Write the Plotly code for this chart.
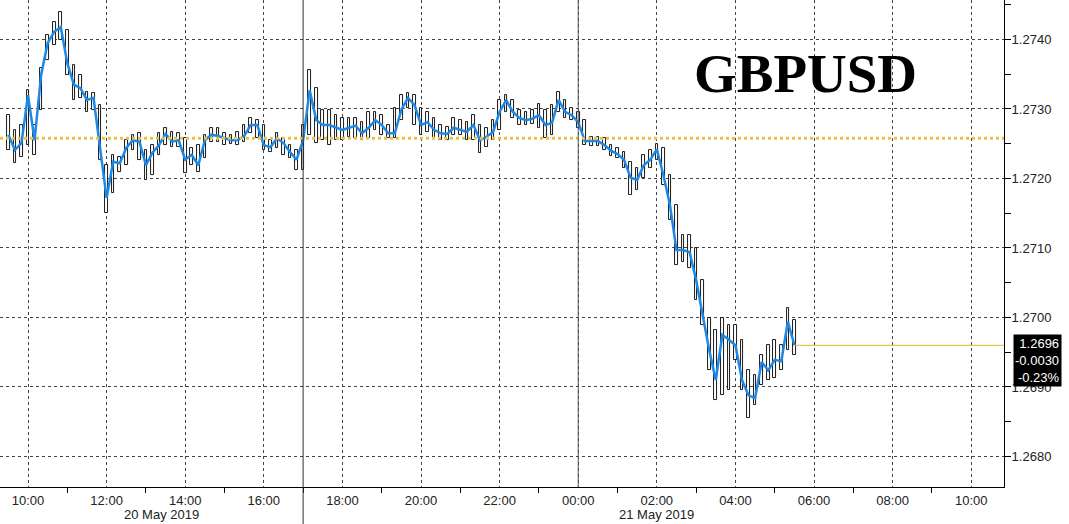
import plotly.graph_objects as go
import pandas as pd

# 10-minute bars, GBPUSD, 20 May 2019 09:30 -> 21 May 2019 05:30
start_time = "2019-05-20 09:30"
bar_minutes = 10

close = [
    1.27263, 1.27241, 1.27251, 1.27320, 1.27255, 1.27349, 1.27395, 1.27411, 1.27418, 1.27366,
    1.27335, 1.27330, 1.27313, 1.27316, 1.27244, 1.27172, 1.27224, 1.27222, 1.27244, 1.27255,
    1.27253, 1.27219, 1.27237, 1.27248, 1.27264, 1.27253, 1.27255, 1.27227, 1.27234, 1.27219,
    1.27255, 1.27263, 1.27261, 1.27258, 1.27255, 1.27255, 1.27261, 1.27277, 1.27277, 1.27248,
    1.27245, 1.27258, 1.27251, 1.27238, 1.27227, 1.27255, 1.27327, 1.27284, 1.27277, 1.27277,
    1.27273, 1.27270, 1.27273, 1.27276, 1.27265, 1.27273, 1.27284, 1.27277, 1.27265, 1.27265,
    1.27299, 1.27316, 1.27306, 1.27277, 1.27281, 1.27270, 1.27265, 1.27264, 1.27273, 1.27270,
    1.27267, 1.27277, 1.27255, 1.27260, 1.27267, 1.27296, 1.27313, 1.27296, 1.27287, 1.27284,
    1.27286, 1.27291, 1.27277, 1.27280, 1.27313, 1.27296, 1.27291, 1.27281, 1.27254, 1.27254,
    1.27254, 1.27248, 1.27240, 1.27235, 1.27227, 1.27201, 1.27198, 1.27219, 1.27227, 1.27242,
    1.27205, 1.27162, 1.27097, 1.27097, 1.27094, 1.27054, 1.27004, 1.26953, 1.26910, 1.26975,
    1.26968, 1.26960, 1.26910, 1.26888, 1.26884, 1.26936, 1.26924, 1.26939, 1.26937, 1.26994,
    1.26960,
]

high = [
    1.27291, 1.27270, 1.27277, 1.27327, 1.27277, 1.27359, 1.27406, 1.27425, 1.27440, 1.27414,
    1.27363, 1.27349, 1.27324, 1.27323, 1.27306, 1.27219, 1.27234, 1.27231, 1.27255, 1.27263,
    1.27265, 1.27241, 1.27248, 1.27265, 1.27273, 1.27267, 1.27265, 1.27258, 1.27244, 1.27248,
    1.27263, 1.27273, 1.27273, 1.27265, 1.27263, 1.27267, 1.27277, 1.27287, 1.27284, 1.27277,
    1.27255, 1.27265, 1.27258, 1.27248, 1.27241, 1.27277, 1.27356, 1.27330, 1.27299, 1.27299,
    1.27291, 1.27287, 1.27287, 1.27287, 1.27281, 1.27296, 1.27296, 1.27291, 1.27277, 1.27301,
    1.27320, 1.27323, 1.27320, 1.27301, 1.27296, 1.27287, 1.27277, 1.27274, 1.27287, 1.27284,
    1.27281, 1.27291, 1.27277, 1.27273, 1.27284, 1.27313, 1.27320, 1.27313, 1.27299, 1.27296,
    1.27299, 1.27307, 1.27299, 1.27306, 1.27324, 1.27313, 1.27301, 1.27296, 1.27284, 1.27260,
    1.27260, 1.27258, 1.27248, 1.27244, 1.27238, 1.27224, 1.27215, 1.27234, 1.27241, 1.27250,
    1.27244, 1.27205, 1.27162, 1.27119, 1.27119, 1.27100, 1.27054, 1.26999, 1.26982, 1.26999,
    1.26989, 1.26989, 1.26968, 1.26924, 1.26917, 1.26946, 1.26960, 1.26968, 1.26960, 1.27014,
    1.26996,
]

low = [
    1.27241, 1.27222, 1.27231, 1.27248, 1.27234, 1.27299, 1.27370, 1.27392, 1.27399, 1.27349,
    1.27313, 1.27316, 1.27296, 1.27299, 1.27227, 1.27150, 1.27179, 1.27209, 1.27219, 1.27241,
    1.27227, 1.27198, 1.27205, 1.27234, 1.27248, 1.27245, 1.27245, 1.27208, 1.27219, 1.27209,
    1.27230, 1.27253, 1.27253, 1.27248, 1.27250, 1.27248, 1.27253, 1.27265, 1.27258, 1.27241,
    1.27238, 1.27244, 1.27234, 1.27230, 1.27212, 1.27212, 1.27263, 1.27251, 1.27255, 1.27248,
    1.27255, 1.27255, 1.27260, 1.27258, 1.27255, 1.27258, 1.27270, 1.27263, 1.27258, 1.27258,
    1.27284, 1.27301, 1.27277, 1.27263, 1.27267, 1.27258, 1.27255, 1.27255, 1.27263, 1.27263,
    1.27255, 1.27255, 1.27237, 1.27245, 1.27255, 1.27270, 1.27296, 1.27287, 1.27277, 1.27277,
    1.27278, 1.27273, 1.27258, 1.27263, 1.27296, 1.27287, 1.27284, 1.27273, 1.27248, 1.27247,
    1.27247, 1.27241, 1.27232, 1.27230, 1.27215, 1.27176, 1.27183, 1.27201, 1.27215, 1.27227,
    1.27191, 1.27140, 1.27076, 1.27080, 1.27071, 1.27025, 1.26989, 1.26924, 1.26881, 1.26888,
    1.26896, 1.26939, 1.26896, 1.26855, 1.26874, 1.26903, 1.26910, 1.26913, 1.26924, 1.26953,
    1.26946,
]

prev_close = 1.27258
last_price = "1.2696"
net_change = "-0.0030"
pct_change = "-0.23%"
y_ticks = [1.2680, 1.2690, 1.2700, 1.2710, 1.2720, 1.2730, 1.2740]
day_labels = ["20 May 2019", "21 May 2019"]
day_label_times = ["2019-05-20 13:24", "2019-05-21 02:00"]
session_break = "2019-05-20 17:00"
midnight = "2019-05-21 00:00"

times = pd.date_range(start_time, periods=len(close), freq=f"{bar_minutes}min")
x_range = [pd.Timestamp("2019-05-20 09:17:15"), pd.Timestamp("2019-05-21 10:50:00")]
y_range = [1.267561, 1.274568]

font = "Liberation Sans"

fig = go.Figure()

# hollow candles (high-low boxes)
fig.add_trace(go.Bar(
    x=times,
    base=low,
    y=[h - l for h, l in zip(high, low)],
    width=bar_minutes * 60 * 1000 * 0.4,
    marker=dict(color="white", line=dict(color="black", width=0.9)),
    hoverinfo="skip",
    showlegend=False,
))

# close line
fig.add_trace(go.Scatter(
    x=times, y=close, mode="lines",
    line=dict(color="#1E88E5", width=2.5),
    showlegend=False,
))

# last price line to right edge
fig.add_trace(go.Scatter(
    x=[times[-1], x_range[1]], y=[close[-1], close[-1]], mode="lines",
    line=dict(color="#E3B52B", width=1),
    showlegend=False, hoverinfo="skip",
))

# little arrow heads on the y axis
fig.add_trace(go.Scatter(
    x=[x_range[1] + pd.Timedelta(minutes=6)] * len(y_ticks), y=y_ticks,
    mode="markers",
    marker=dict(symbol="triangle-right", size=7, color="black"),
    cliponaxis=False, showlegend=False, hoverinfo="skip",
))

# notch of the last price tag
fig.add_trace(go.Scatter(
    x=[x_range[1] + pd.Timedelta(minutes=11)], y=[close[-1]],
    mode="markers",
    marker=dict(symbol="triangle-left", size=9, color="black"),
    cliponaxis=False, showlegend=False, hoverinfo="skip",
))

# previous close
fig.add_shape(type="line", xref="paper", x0=0, x1=1, y0=prev_close, y1=prev_close,
              line=dict(color="#E6C24D", width=3, dash="dot"))

fig.add_shape(type="line", x0=session_break, x1=session_break, yref="paper", y0=-0.08, y1=1,
              line=dict(color="#333333", width=1))
fig.add_shape(type="line", x0=midnight, x1=midnight, yref="paper", y0=0, y1=1,
              line=dict(color="#555555", width=1))

for lbl, t in zip(day_labels, day_label_times):
    fig.add_annotation(x=t, y=0, yref="paper", yanchor="top", yshift=-18,
                       text=lbl, showarrow=False,
                       font=dict(family=font, size=13, color="#222"))

fig.add_annotation(
    x=1, xref="paper", xanchor="left", xshift=9,
    y=close[-1], yanchor="top", yshift=11,
    text=f"{last_price}<br>{net_change}<br>{pct_change}",
    showarrow=False, align="right",
    bgcolor="black", borderpad=1,
    font=dict(family=font, size=13, color="white"),
)

fig.add_annotation(
    x=0.802, xref="paper", xanchor="center", y=0.849, yref="paper", yanchor="middle",
    text="<b>GBPUSD</b>", showarrow=False,
    font=dict(family="Liberation Serif", size=55, color="black"),
)

fig.update_layout(
    width=1069, height=524,
    margin=dict(l=0, r=65, t=0, b=37),
    paper_bgcolor="white", plot_bgcolor="white",
    bargap=0,
    xaxis=dict(
        range=x_range, type="date", automargin=False,
        tick0="2019-05-20 10:00", dtick=2 * 3600 * 1000, tickformat="%H:%M",
        ticks="", ticklabelstandoff=1,
        minor=dict(tick0="2019-05-20 11:00", dtick=2 * 3600 * 1000, ticks="outside",
                   ticklen=5, tickcolor="black", showgrid=False),
        showgrid=True, gridcolor="#444", griddash="dot", gridwidth=1,
        showline=True, linecolor="black", linewidth=1,
        tickfont=dict(family=font, size=13, color="#222"),
        zeroline=False,
    ),
    yaxis=dict(
        range=y_range, side="right", automargin=False,
        tickvals=y_ticks, tickformat=".4f",
        ticks="outside", ticklen=4, tickcolor="black",
        minor=dict(dtick=0.0005, tick0=1.268, ticks="outside", ticklen=6, tickcolor="black", showgrid=False),
        showgrid=True, gridcolor="#444", griddash="dot", gridwidth=1,
        showline=True, linecolor="black", linewidth=1,
        tickfont=dict(family=font, size=13, color="#222"),
        zeroline=False,
    ),
)

# page body has an 8px default margin; drop it so the figure fills the window
fig.write_html("out.html", config={"displayModeBar": False},
               post_script="document.body.style.margin='0px';")
